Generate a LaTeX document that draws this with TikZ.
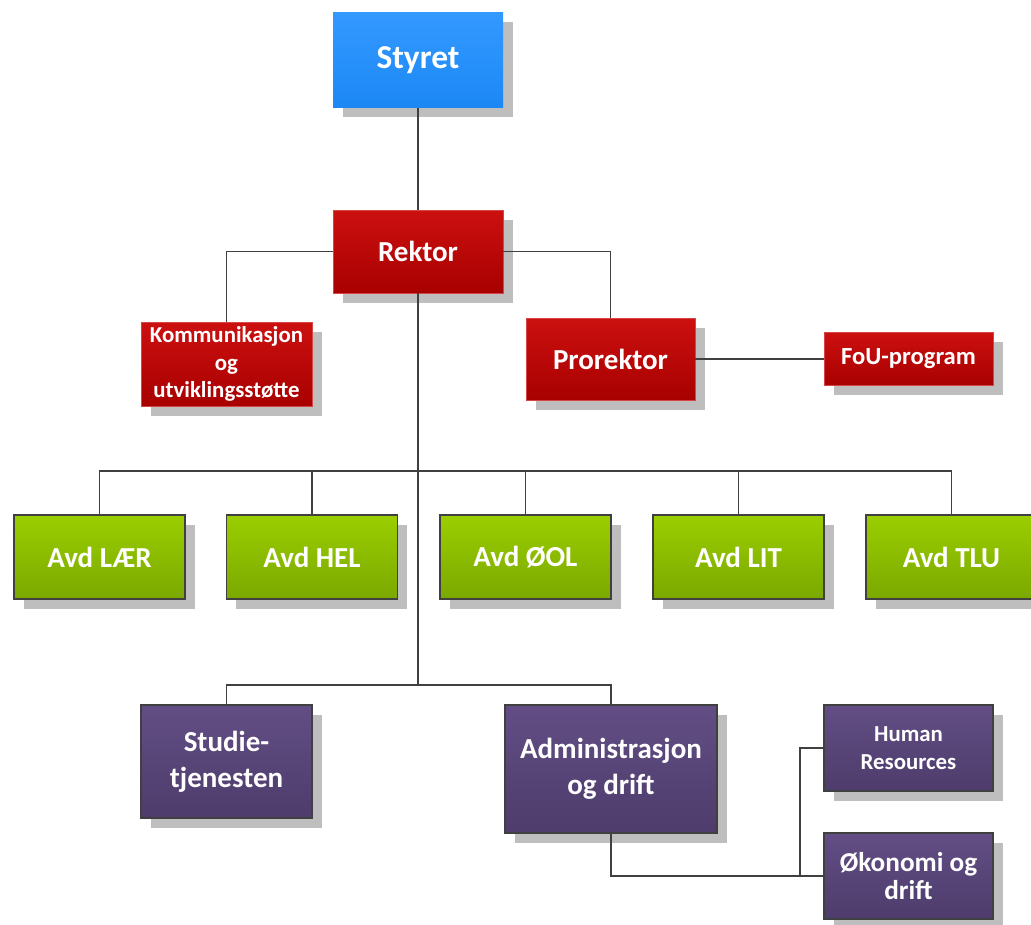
\documentclass[tikz,border=0pt]{standalone}
\usepackage{fontspec}
\setmainfont{Carlito}
\usetikzlibrary{shadows}
\definecolor{bluetop}{RGB}{51,153,255}
\definecolor{bluebot}{RGB}{28,136,245}
\definecolor{redtop}{RGB}{204,16,16}
\definecolor{redbot}{RGB}{168,0,0}
\definecolor{redline}{RGB}{215,70,70}
\definecolor{greentop}{RGB}{155,206,0}
\definecolor{greenbot}{RGB}{122,168,0}
\definecolor{purptop}{RGB}{98,78,132}
\definecolor{purpbot}{RGB}{78,60,108}
\definecolor{edge}{RGB}{64,64,64}
\definecolor{shade}{RGB}{190,190,190}

\begin{document}
\begin{tikzpicture}[
	unit/.style={inner sep=0pt, text=white, align=center, font=\bfseries\fontsize{16.5}{20.4}\selectfont,
		drop shadow={shadow xshift=0.19cm, shadow yshift=-0.19cm, fill=shade, opacity=1}},
	board/.style={unit, top color=bluetop, bottom color=bluebot, font=\bfseries\fontsize{19}{22}\selectfont},
	lead/.style={unit, draw=redline, line width=0.5pt, top color=redtop, bottom color=redbot},
	dept/.style={unit, draw=edge, line width=0.8pt, top color=greentop, bottom color=greenbot},
	admin/.style={unit, draw=edge, line width=0.8pt, top color=purptop, bottom color=purpbot},
	link/.style={draw=edge, line width=0.8pt}
	]
	%%%%% START %%%%%
	\useasboundingbox (0, 0) rectangle (20.62, -18.48);
	
	\node[board, minimum width=3.4cm, minimum height=1.9cm] (styret) at (8.36, -1.20) {Styret};
	\node[lead, minimum width=3.4cm, minimum height=1.66cm] (rektor) at (8.36, -5.03) {Rektor};
	\node[lead, minimum width=3.42cm, minimum height=1.68cm, font=\bfseries\fontsize{13}{15.6}\selectfont] (komm) at (4.53, -7.28) {Kommunikasjon\\og\\utviklingsstøtte};
	\node[lead, minimum width=3.38cm, minimum height=1.64cm] (prorektor) at (12.21, -7.18) {Prorektor};
	\node[lead, minimum width=3.38cm, minimum height=1.06cm, font=\bfseries\fontsize{14}{16}\selectfont] (fou) at (18.17, -7.18) {FoU-program};
	
	\node[dept, minimum width=3.42cm, minimum height=1.68cm] (laer) at (1.99, -11.14) {Avd LÆR};
	\node[dept, minimum width=3.42cm, minimum height=1.68cm] (hel) at (6.24, -11.14) {Avd HEL};
	\node[dept, minimum width=3.42cm, minimum height=1.68cm] (ool) at (10.51, -11.14) {Avd ØOL};
	\node[dept, minimum width=3.42cm, minimum height=1.68cm] (lit) at (14.77, -11.14) {Avd LIT};
	\node[dept, minimum width=3.42cm, minimum height=1.68cm] (tlu) at (19.03, -11.14) {Avd TLU};
	
	\node[admin, minimum width=3.42cm, minimum height=2.26cm] (studie) at (4.53, -15.23) {Studie-\\tjenesten};
	\node[admin, minimum width=4.24cm, minimum height=2.56cm] (adm) at (12.22, -15.38) {Administrasjon\\og drift};
	\node[admin, minimum width=3.38cm, minimum height=1.72cm, font=\bfseries\fontsize{13}{16}\selectfont] (hr) at (18.17, -14.96) {Human\\Resources};
	\node[admin, minimum width=3.38cm, minimum height=1.72cm, font=\bfseries\fontsize{15.5}{16}\selectfont] (okonomi) at (18.17, -17.52) {Økonomi og\\drift};
	
	\coordinate (deptbar) at (8.36, -9.42);
	\coordinate (admbar) at (8.36, -13.70);
	\coordinate (hrbar) at (16.0, -17.52);
	
	\draw[link] (styret) -- (rektor);
	\draw[link] (rektor.west) -| (komm.north);
	\draw[link] (rektor.east) -| (prorektor.north);
	\draw[link] (prorektor.east) -- (fou.west);
	\draw[link] (rektor.south) -- (admbar);
	\foreach \d in {laer, hel, ool, lit, tlu}
		\draw[link] (deptbar) -| (\d.north);
	\draw[link] (admbar) -| (studie.north);
	\draw[link] (admbar) -| (adm.north);
	\draw[link] (adm.south) |- (okonomi.west);
	\draw[link] (hrbar) |- (hr.west);
	%%%%% END %%%%%
\end{tikzpicture}
\end{document}
